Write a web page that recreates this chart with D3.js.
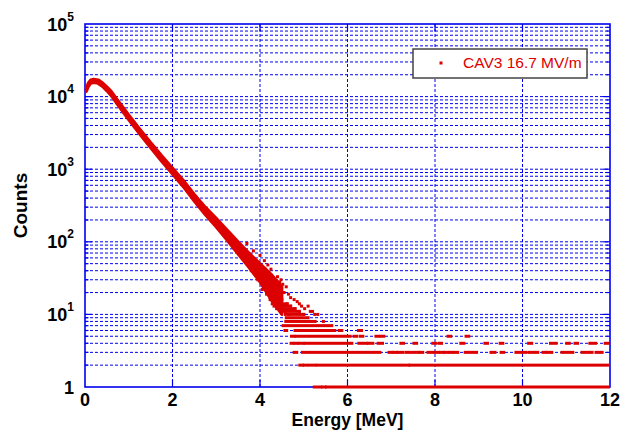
<!DOCTYPE html>
<meta charset="utf-8">
<head>
<script src="https://d3js.org/d3.v7.min.js"></script>
<style>
  body { margin: 0; background: #fff; font-family: "Liberation Sans", Arial, Helvetica, sans-serif; }
</style>
</head>
<body>
<svg></svg>
<script>

// dense part of the spectrum: energy [MeV] with lower / upper counts of the band
var bandE  = [0.03, 0.08, 0.13, 0.20, 0.30, 0.40, 0.50, 0.60, 0.75, 1.00, 1.25, 1.50, 1.75, 2.00, 2.25, 2.50, 2.75, 3.00, 3.25, 3.50, 3.75, 4.00, 4.25, 4.50];
var bandLo = [11800, 13800, 15200, 15600, 15200, 13800, 12000, 10300, 7700, 4800, 3050, 1970, 1290, 860, 570, 360, 235, 160, 105, 68, 44, 28, 16, 10];
var bandHi = [13200, 15600, 17000, 17400, 17000, 15500, 13600, 11800, 8900, 5600, 3600, 2330, 1540, 1040, 700, 450, 300, 210, 145, 100, 70, 50, 36, 24];

// single scattered points around the end of the band
var cloudE = [4.12, 4.20, 4.30, 4.15, 4.23, 4.28, 4.32, 4.38, 4.45, 4.52, 4.60, 4.55, 4.65, 4.70, 4.78, 4.85, 4.90, 4.95, 5.02, 5.10, 5.15, 5.20, 5.25, 5.32, 4.35, 4.42, 4.50, 4.62, 4.70, 4.80, 4.90, 5.00, 4.58, 4.66, 5.45,
              3.60, 3.70, 3.85, 3.90, 3.95, 4.00, 4.05, 4.10, 4.18, 4.40, 4.48, 3.80, 4.08, 4.25];
var cloudN = [42, 38, 32, 19, 16, 14, 13, 12, 28, 26, 24, 20, 19, 17, 16, 15, 14, 13, 12, 13, 11, 11, 10, 10, 21, 18, 16, 14, 13, 12, 11, 10, 11, 10, 8,
              60, 95, 75, 35, 30, 65, 22, 55, 48, 33, 30, 40, 26, 42];

// low-count tail: counts stay on integer levels, runs of bins [count, from MeV, to MeV]
var tailRuns = [
  [1, 5.24, 5.39], [1, 5.43, 5.49], [1, 5.52, 12.0],
  [2, 4.91, 4.97], [2, 5.01, 5.07], [2, 5.13, 5.26], [2, 5.31, 7.20], [2, 7.26, 7.40], [2, 7.43, 12.0],
  [3, 4.78, 4.84], [3, 4.97, 6.50], [3, 6.56, 6.74], [3, 6.95, 7.02], [3, 7.06, 7.12], [3, 7.15, 7.27],
  [3, 7.34, 7.63], [3, 7.66, 7.72], [3, 7.84, 7.96], [3, 8.01, 8.08], [3, 8.13, 8.19], [3, 8.22, 8.29],
  [3, 8.33, 8.39], [3, 8.43, 8.52], [3, 8.69, 8.81], [3, 8.87, 8.95], [3, 9.28, 9.37], [3, 9.51, 9.57],
  [3, 9.85, 10.08], [3, 10.15, 10.35], [3, 10.47, 10.53], [3, 10.58, 10.67], [3, 10.90, 11.15],
  [3, 11.36, 11.59], [3, 11.68, 11.82],
  [4, 4.71, 4.76], [4, 4.80, 4.85], [4, 4.89, 4.99], [4, 5.03, 6.10], [4, 6.26, 6.44], [4, 6.48, 6.58],
  [4, 6.70, 6.80], [4, 7.22, 7.28], [4, 7.52, 7.58], [4, 7.95, 8.01], [4, 8.09, 8.15], [4, 8.59, 8.66],
  [4, 9.14, 9.20], [4, 9.49, 9.55], [4, 10.14, 10.21], [4, 10.64, 10.77], [4, 11.01, 11.07],
  [4, 11.20, 11.26], [4, 11.54, 11.67], [4, 11.89, 11.95],
  [5, 4.72, 4.78], [5, 4.82, 6.06], [5, 6.15, 6.21], [5, 6.29, 6.35], [5, 6.65, 6.71], [5, 6.77, 6.83],
  [5, 8.30, 8.36], [5, 8.71, 8.77],
  [6, 4.57, 4.61], [6, 4.80, 5.60], [6, 5.64, 5.71], [6, 5.81, 5.87], [6, 6.25, 6.32],
  [7, 4.53, 5.43], [7, 5.49, 5.64],
  [8, 4.59, 5.26], [9, 4.60, 5.10], [10, 4.58, 5.00], [11, 4.55, 4.90], [12, 4.50, 4.80],
  [13, 4.45, 4.70], [14, 4.45, 4.62]
];

var xTicks = [0, 2, 4, 6, 8, 10, 12];
var yDecades = [1, 10, 100, 1000, 10000, 100000];
var legendLabel = "CAV3 16.7 MV/m";

var width = 620, height = 430;
var margin = {left: 85, right: 10, top: 24, bottom: 43};
var red = "#dd0000", blue = "#0000ee";

var svg = d3.select("svg").attr("width", width).attr("height", height);

var x = d3.scaleLinear().domain([0, 12]).range([margin.left, width - margin.right]);
var y = d3.scaleLog().domain([1, 100000]).range([height - margin.bottom, margin.top]);

var x0 = x.range()[0], x1 = x.range()[1], yb = y.range()[0], yt = y.range()[1];

// grid
var gridY = y.ticks().filter(function (d) { return d > 1 && d < 100000; });
svg.append("g").selectAll("line")
    .data(gridY).enter().append("line")
    .attr("x1", x0).attr("x2", x1)
    .attr("y1", function (d) { return y(d); })
    .attr("y2", function (d) { return y(d); })
    .attr("stroke", blue).attr("stroke-width", 1)
    .attr("stroke-dasharray", "3,2");

svg.append("g").selectAll("line")
    .data(xTicks.slice(1, -1)).enter().append("line")
    .attr("y1", yt).attr("y2", yb)
    .attr("x1", function (d) { return x(d); })
    .attr("x2", function (d) { return x(d); })
    .attr("stroke", blue).attr("stroke-width", 1)
    .attr("stroke-dasharray", "3,2");

// ticks (inside, both sides)
var ticks = svg.append("g").attr("stroke", blue).attr("stroke-width", 1.2);
gridY.forEach(function (d) {
    var len = yDecades.indexOf(d) >= 0 ? 7 : 3.5;
    ticks.append("line").attr("x1", x0).attr("x2", x0 + len).attr("y1", y(d)).attr("y2", y(d));
    ticks.append("line").attr("x1", x1).attr("x2", x1 - len).attr("y1", y(d)).attr("y2", y(d));
});
xTicks.slice(1, -1).forEach(function (d) {
    ticks.append("line").attr("x1", x(d)).attr("x2", x(d)).attr("y1", yb).attr("y2", yb - 7);
    ticks.append("line").attr("x1", x(d)).attr("x2", x(d)).attr("y1", yt).attr("y2", yt + 7);
});

// frame
svg.append("rect")
    .attr("x", x0).attr("y", yt)
    .attr("width", x1 - x0).attr("height", yb - yt)
    .attr("fill", "none").attr("stroke", blue).attr("stroke-width", 1.6);

// data: dense band
var bandData = bandE.map(function (e, i) { return {e: e, lo: bandLo[i], hi: bandHi[i]}; });
var area = d3.area()
    .x(function (d) { return x(d.e); })
    .y0(function (d) { return y(d.lo); })
    .y1(function (d) { return y(d.hi); });
svg.append("path")
    .datum(bandData)
    .attr("d", area)
    .attr("fill", red).attr("stroke", red).attr("stroke-width", 3).attr("stroke-linejoin", "round");

// data: scattered points
svg.append("g").selectAll("rect")
    .data(cloudE).enter().append("rect")
    .attr("x", function (d) { return x(d) - 1.5; })
    .attr("y", function (d, i) { return y(cloudN[i]) - 1.5; })
    .attr("width", 3).attr("height", 3)
    .attr("fill", red);

// data: integer-count tail
svg.append("g").selectAll("rect")
    .data(tailRuns).enter().append("rect")
    .attr("x", function (d) { return x(d[1]) - 1.5; })
    .attr("y", function (d) { return y(d[0]) - 1.5; })
    .attr("width", function (d) { return Math.min(x(d[2]) + 1.5, x1) - x(d[1]) + 1.5; })
    .attr("height", 3)
    .attr("fill", red);

// tick labels
svg.append("g").selectAll("text")
    .data(xTicks).enter().append("text")
    .attr("x", function (d) { return x(d); })
    .attr("y", yb + 19)
    .attr("text-anchor", "middle")
    .attr("font-size", 18).attr("font-weight", "bold")
    .text(function (d) { return d; });

var yl = svg.append("g").selectAll("text")
    .data(yDecades).enter().append("text")
    .attr("x", 74)
    .attr("y", function (d) { return y(d) + 6.5; })
    .attr("text-anchor", "end")
    .attr("font-size", 18).attr("font-weight", "bold");
yl.each(function (d) {
    var t = d3.select(this);
    if (d === 1) { t.text("1"); return; }
    t.append("tspan").text("10");
    t.append("tspan").attr("dy", -10).attr("font-size", 12).text(Math.round(Math.log10(d)));
});

// axis titles
svg.append("text")
    .attr("x", (x0 + x1) / 2).attr("y", 426)
    .attr("text-anchor", "middle")
    .attr("font-size", 17.5).attr("font-weight", "bold")
    .text("Energy [MeV]");

svg.append("text")
    .attr("transform", "translate(27," + ((yt + yb) / 2) + ")rotate(-90)")
    .attr("text-anchor", "middle")
    .attr("font-size", 19).attr("font-weight", "bold")
    .text("Counts");

// legend
var lg = svg.append("g");
lg.append("rect")
    .attr("x", 413).attr("y", 49).attr("width", 174).attr("height", 29)
    .attr("fill", "#fff").attr("stroke", "#444").attr("stroke-width", 1.5);
lg.append("rect")
    .attr("x", 439.5).attr("y", 61.5).attr("width", 3).attr("height", 3)
    .attr("fill", red);
lg.append("text")
    .attr("x", 463).attr("y", 68)
    .attr("font-size", 15.5).attr("fill", red)
    .text(legendLabel);

</script>
</body>
</html>
